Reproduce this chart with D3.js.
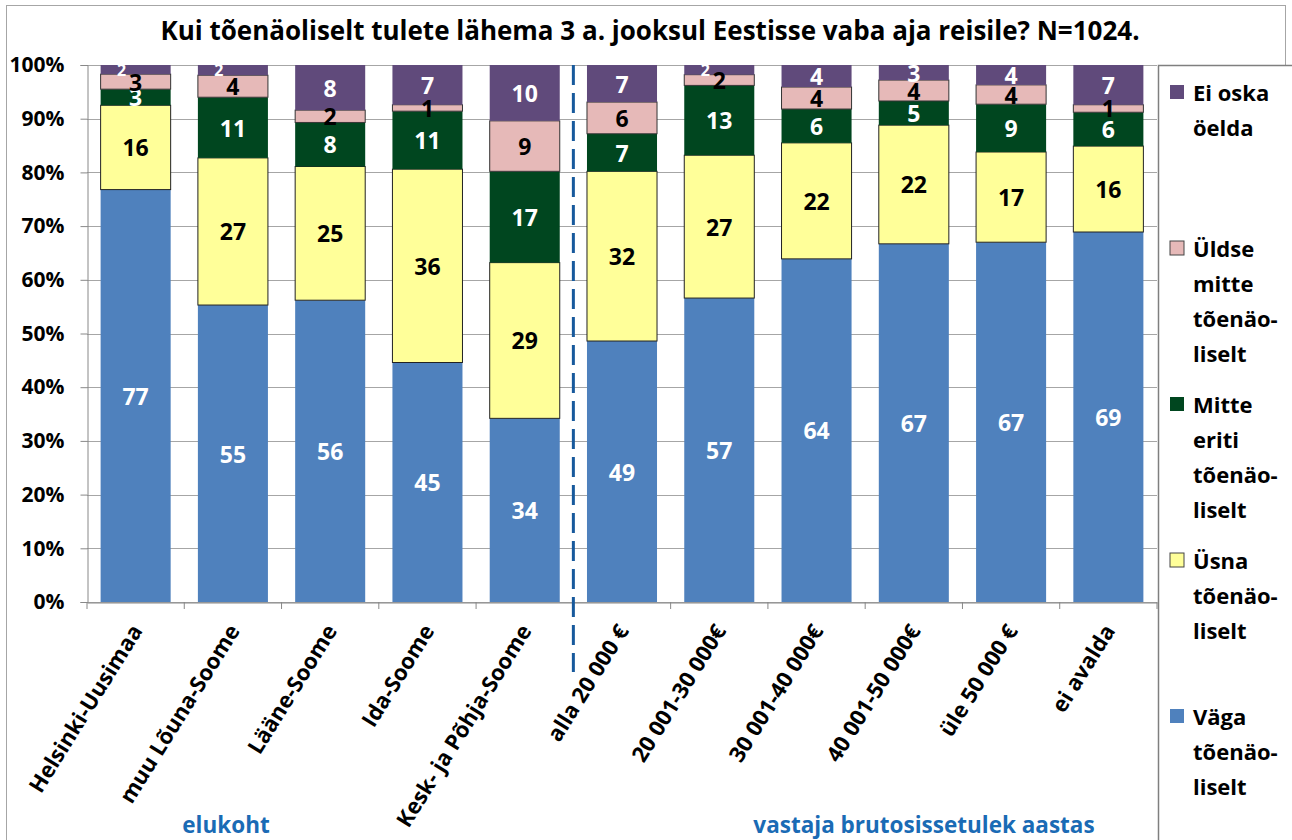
<!DOCTYPE html>
<html><head><meta charset="utf-8">
<script src="https://cdn.jsdelivr.net/npm/d3@7"></script>
<style>
body{margin:0;background:#fff}
svg{display:block}
text{font-family:"Open Sans",Lato,sans-serif;font-weight:bold}
</style>
</head><body><svg id="c" width="1292" height="840"></svg>
<script>
const title = "Kui tõenäoliselt tulete lähema 3 a. jooksul Eestisse vaba aja reisile? N=1024.";
const categories = ["Helsinki-Uusimaa","muu Lõuna-Soome","Lääne-Soome","Ida-Soome","Kesk- ja Põhja-Soome",
  "alla 20 000 €","20 001-30 000€","30 001-40 000€","40 001-50 000€","üle 50 000 €","ei avalda"];
const seriesNames = ["Väga tõenäoliselt","Üsna tõenäoliselt","Mitte eriti tõenäoliselt","Üldse mitte tõenäoliselt","Ei oska öelda"];
const vaga       = [76.8, 55.3, 56.2, 44.6, 34.2, 48.6, 56.6, 63.9, 66.7, 67.0, 68.9];
const usna       = [15.7, 27.4, 24.9, 36.0, 29.0, 31.6, 26.6, 21.6, 22.1, 16.8, 16.0];
const mitteEriti = [ 3.0, 11.3,  8.2, 10.8, 17.0,  7.0, 13.0,  6.3,  4.5,  8.9,  6.3];
const uldseMitte = [ 2.8,  4.1,  2.3,  1.2,  9.4,  5.9,  2.0,  4.1,  3.9,  3.6,  1.4];
const eiOska     = [ 1.7,  1.9,  8.4,  7.4, 10.4,  6.9,  1.8,  4.1,  2.8,  3.7,  7.4];
const yTicks = [0,10,20,30,40,50,60,70,80,90,100];
const legendLines = [["Ei oska","öelda"],["Üldse","mitte","tõenäo-","liselt"],["Mitte","eriti","tõenäo-","liselt"],["Üsna","tõenäo-","liselt"],["Väga","tõenäo-","liselt"]];
const groupLabels = ["elukoht","vastaja brutosissetulek aastas"];
const groupSizes = [5,6];

const colors = ["#4F81BD","#FFFF99","#00461F","#E6B9B8","#604A7B"];
const labelColors = ["#fff","#000","#fff","#000","#fff"];
const strokes = ["none","#222","none","#333","none"];

const seriesArrays = [vaga,usna,mitteEriti,uldseMitte,eiOska];
const rows = categories.map((c,i)=>{const r={cat:c}; seriesNames.forEach((s,k)=>r[s]=seriesArrays[k][i]); return r;});
const stacked = d3.stack().keys(seriesNames)(rows);

const svg = d3.select("#c");
const L=87, R=1157, T=65, B=602;
const x = d3.scaleBand().domain(categories).range([L,R]).paddingInner(0.28).paddingOuter(0.14);
const y = d3.scaleLinear().domain([0,100]).range([B,T]);

// outer frame
svg.append("rect").attr("x",6.5).attr("y",5.5).attr("width",1279).attr("height",850)
  .attr("fill","none").attr("stroke","#a6a6a6").attr("stroke-width",1);

// title
svg.append("text").attr("x",650).attr("y",30).attr("text-anchor","middle").attr("dominant-baseline","central")
  .attr("font-size",26).attr("fill","#000").text(title);

// gridlines
svg.append("g").selectAll("line").data(yTicks).join("line")
  .attr("x1",L).attr("x2",R).attr("y1",d=>Math.round(y(d))+0.5).attr("y2",d=>Math.round(y(d))+0.5)
  .attr("stroke","#a6a6a6").attr("stroke-width",1);

// y axis
const ya = svg.append("g").attr("transform",`translate(${L+0.5},0)`)
  .call(d3.axisLeft(y).tickValues(yTicks).tickFormat(d=>d+"%").tickSize(7).tickPadding(16));
ya.select(".domain").attr("stroke","#888");
ya.selectAll(".tick line").attr("stroke","#888");
ya.selectAll(".tick text").attr("font-size",21).attr("fill","#000").attr("font-family","'Open Sans',sans-serif").attr("font-weight","bold");

// bars
const bw = x.bandwidth();
stacked.forEach((s,k)=>{
  svg.append("g").selectAll("rect").data(s).join("rect")
    .attr("x",d=>x(d.data.cat)).attr("width",bw)
    .attr("y",d=>y(d[1])).attr("height",d=>y(d[0])-y(d[1]))
    .attr("fill",colors[k]).attr("stroke",strokes[k]).attr("stroke-width",1);
});

// x axis
const xa = svg.append("g").attr("transform",`translate(0,${B+0.5})`)
  .call(d3.axisBottom(x).tickSize(0).tickFormat(""));
xa.select(".domain").attr("stroke","#888");
const bounds = d3.range(categories.length+1).map(i=>L+i*x.step());
svg.append("g").selectAll("line").data(bounds).join("line")
  .attr("x1",d=>d).attr("x2",d=>d).attr("y1",B).attr("y2",B+7).attr("stroke","#888");

// x labels
svg.append("g").selectAll("text").data(categories).join("text")
  .attr("transform",d=>`translate(${x(d)+bw/2},626) rotate(-58)`)
  .attr("text-anchor","end").attr("dominant-baseline","central")
  .attr("font-size",22).attr("fill","#000").text(d=>d);

// dashed separator
const sepX = L+groupSizes[0]*x.step();
svg.append("line").attr("x1",sepX).attr("x2",sepX).attr("y1",T).attr("y2",672)
  .attr("stroke","#17599c").attr("stroke-width",3).attr("stroke-dasharray","20,8");

// value labels
stacked.forEach((s,k)=>{
  svg.append("g").selectAll("text").data(s).join("text")
    .attr("x",d=>x(d.data.cat)+bw/2 + ((k===4 && d[1]-d[0]<2.5)?-14:0))
    .attr("y",d=>(y(d[0])+y(d[1]))/2)
    .attr("text-anchor","middle").attr("dominant-baseline","central")
    .attr("font-size",d=>(k===4 && d[1]-d[0]<2.5)?16:23)
    .attr("fill",labelColors[k])
    .text(d=>Math.round(d[1]-d[0]));
});

// group labels
groupLabels.forEach((g,i)=>{
  svg.append("text").attr("x",i===0?226:924).attr("y",824).attr("text-anchor","middle").attr("dominant-baseline","central")
    .attr("font-size",22.5).attr("fill","#1a6bb5").text(g);
});

// legend
svg.append("rect").attr("x",1158.5).attr("y",65.5).attr("width",140).attr("height",800)
  .attr("fill","#fff").attr("stroke","#7f7f7f").attr("stroke-width",1.5);
const legendOrder = [4,3,2,1,0];
legendOrder.forEach((k,j)=>{
  const y0 = 92 + j*156;
  svg.append("rect").attr("x",1170).attr("y",y0-7).attr("width",14).attr("height",14)
    .attr("fill",colors[k]).attr("stroke",strokes[k]==="none"?"none":"#444").attr("stroke-width",1);
  legendLines[j].forEach((ln,li)=>{
    svg.append("text").attr("x",1193).attr("y",y0+li*35).attr("dominant-baseline","central")
      .attr("font-size",22).attr("fill","#000").text(ln);
  });
});
</script></body></html>
